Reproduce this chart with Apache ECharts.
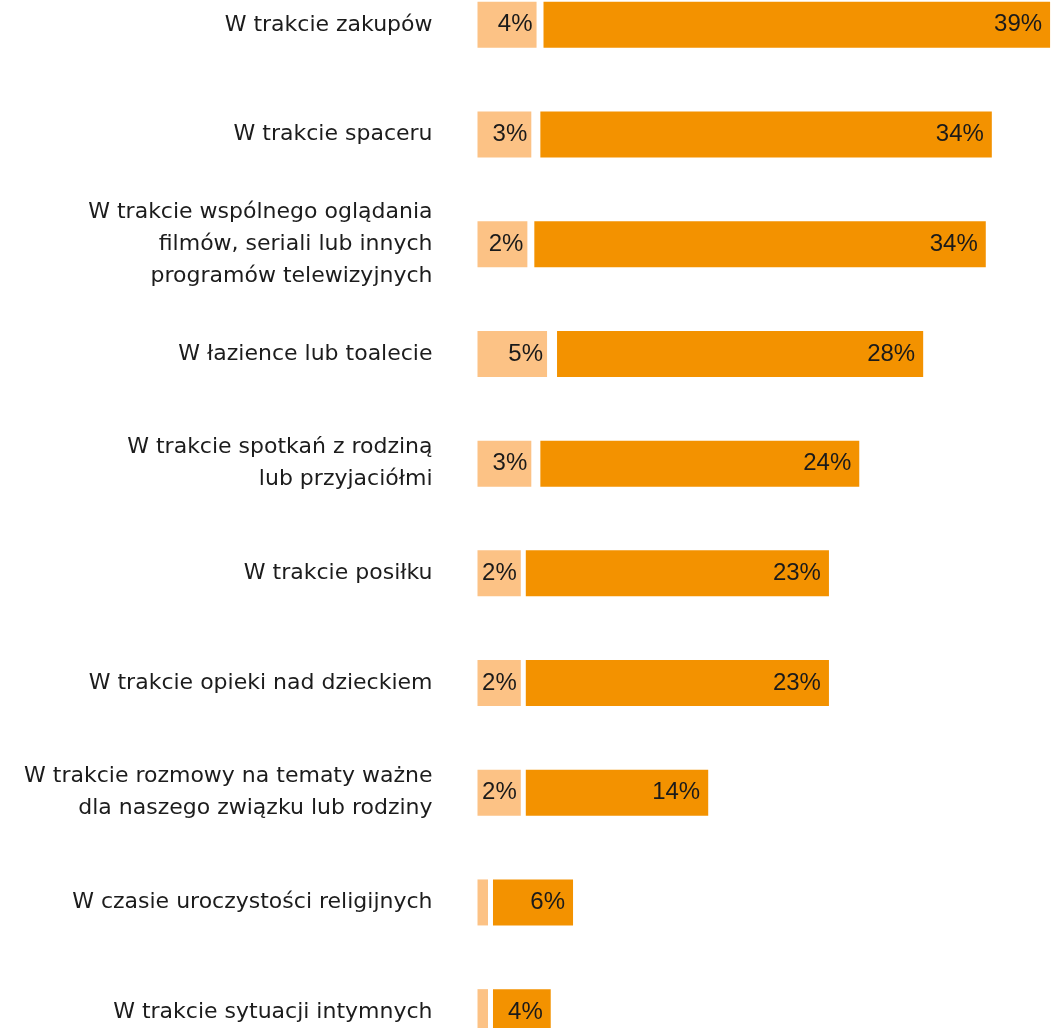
<!DOCTYPE html>
<html lang="pl">
<head>
    <meta charset="UTF-8">
    <script src="https://cdn.jsdelivr.net/npm/echarts@6/dist/echarts.min.js"></script>
    <title>Sytuacje</title>
    <style>
        html, body { margin: 0; padding: 0; background: #ffffff; overflow: hidden; }
        #chart { width: 1053px; height: 1028px; }
    </style>
</head>
<body>
    <div id="chart"></div>
    <script>
        // categories, top to bottom
        var categories = [
            'W trakcie zakupów',
            'W trakcie spaceru',
            'W trakcie wspólnego oglądania\nfilmów, seriali lub innych\nprogramów telewizyjnych',
            'W łazience lub toalecie',
            'W trakcie spotkań z rodziną\nlub przyjaciółmi',
            'W trakcie posiłku',
            'W trakcie opieki nad dzieckiem',
            'W trakcie rozmowy na tematy ważne\ndla naszego związku lub rodziny',
            'W czasie uroczystości religijnych',
            'W trakcie sytuacji intymnych'
        ];

        // light segment: drawn length (as in picture) and printed label
        var lightValues = [4.5, 4.1, 3.8, 5.3, 4.1, 3.3, 3.3, 3.3, 0.8, 0.8];
        var lightLabels = ['4%', '3%', '2%', '5%', '3%', '2%', '2%', '2%', '', ''];

        // white space between the two segments
        var gapValues = [0.53, 0.69, 0.53, 0.76, 0.69, 0.38, 0.38, 0.38, 0.38, 0.38];

        // dark segment
        var darkValues = [38.6, 34.4, 34.4, 27.9, 24.3, 23.1, 23.1, 13.9, 6.1, 4.4];

        var chart = echarts.init(document.getElementById('chart'), null, { renderer: 'canvas' });

        var pctFont = '"Liberation Sans", Arial, sans-serif';

        var option = {
            animation: false,
            grid: {
                left: 477.5,
                width: 573.5 * 46 / 43.7,
                top: -30,
                height: 1097,
                outerBoundsMode: 'none',
                containLabel: false
            },
            xAxis: {
                type: 'value',
                min: 0,
                max: 46,
                show: false
            },
            yAxis: {
                type: 'category',
                inverse: true,
                data: categories,
                axisLine: { show: false },
                axisTick: { show: false },
                axisLabel: {
                    margin: 45,
                    fontFamily: '"DejaVu Sans", sans-serif',
                    fontSize: 22,
                    lineHeight: 32,
                    color: '#1c1c1c',
                    align: 'right'
                }
            },
            series: [
                {
                    type: 'bar',
                    stack: 'all',
                    barWidth: 46,
                    data: lightValues,
                    itemStyle: { color: '#fcc285' },
                    label: {
                        show: true,
                        position: 'insideRight',
                        distance: 4,
                        fontFamily: pctFont,
                        fontSize: 24,
                        color: '#1a1a1a',
                        formatter: function (p) { return lightLabels[p.dataIndex]; }
                    }
                },
                {
                    type: 'bar',
                    stack: 'all',
                    barWidth: 46,
                    data: gapValues,
                    itemStyle: { color: 'rgba(0,0,0,0)' },
                    silent: true
                },
                {
                    type: 'bar',
                    stack: 'all',
                    barWidth: 46,
                    data: darkValues,
                    itemStyle: { color: '#f39200' },
                    label: {
                        show: true,
                        position: 'insideRight',
                        distance: 8,
                        fontFamily: pctFont,
                        fontSize: 24,
                        color: '#1a1a1a',
                        formatter: function (p) { return Math.round(p.value) + '%'; }
                    }
                }
            ]
        };

        chart.setOption(option);
    </script>
</body>
</html>
